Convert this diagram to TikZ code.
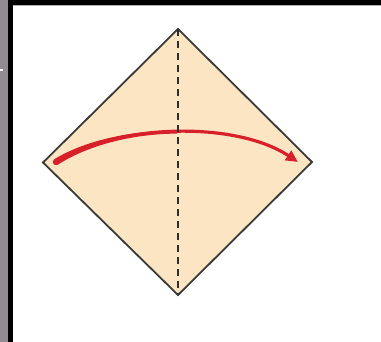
\documentclass[tikz,border=0pt]{standalone}
\usetikzlibrary{arrows.meta}
\definecolor{paper}{HTML}{FBE5C3}
\definecolor{edge}{HTML}{3A3A38}
\definecolor{foldred}{HTML}{D7202A}
\definecolor{sidegray}{HTML}{8E8C92}
\begin{document}
\begin{tikzpicture}[x=1pt,y=-1pt,
  paperedge/.style={draw=edge,line width=1.8pt,line join=miter,fill=paper},
  foldline/.style={draw=edge!80!black,line width=1.5pt,dash pattern=on 7pt off 5pt},
  foldarrow/.style={draw=foldred,line width=3.2pt,line cap=round,-{Triangle[length=12pt,width=11pt]}}]
\useasboundingbox (0,0) rectangle (381,342);
\fill[white] (0,0) rectangle (381,342);
\fill[sidegray] (0,0) rectangle (7.5,342);
\fill[black] (7.5,0) rectangle (12.5,342);
\fill[black] (7.5,0) rectangle (381,5);
\fill[gray!60] (12.5,5) rectangle (381,6.5);
\fill[white] (0,69) rectangle (3,71.5);
\coordinate (T) at (178,29);
\coordinate (L) at (43,162.5);
\coordinate (R) at (312,162);
\coordinate (B) at (178,295);
\draw[paperedge] (T) -- (R) -- (B) -- (L) -- cycle;
\coordinate (S) at (56,162);
\coordinate (E) at (298,162);
\draw[foldarrow] (S) .. controls (118,123) and (236,121) .. (E);
\fill[foldred] (54.2,159.3) .. controls (85.6,140.1) and (131.5,130.6) .. (177,130.4)
  -- (177,133.6) .. controls (132.5,133.9) and (88.6,145) .. (57.8,164.7) -- cycle;
\fill[foldred] (S) circle[radius=3.2];
\draw[foldline] (T) -- (B);
\end{tikzpicture}
\end{document}
